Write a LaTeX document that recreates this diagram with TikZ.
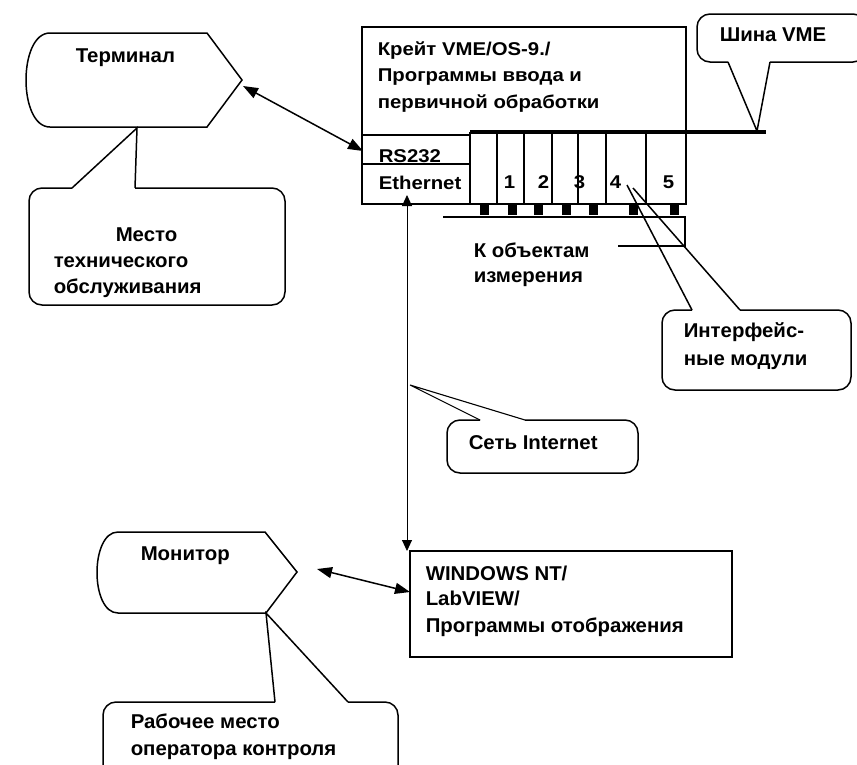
\documentclass[tikz,border=0pt]{standalone}
\usepackage{fontspec}
\setmainfont{Liberation Sans}
\newfontfamily\cratefont[FakeStretch=1.1]{Liberation Sans}
\newfontfamily\mainfont[FakeStretch=1.02]{Liberation Sans}
\usetikzlibrary{arrows.meta}
\begin{document}
\begin{tikzpicture}[x=1pt,y=-1pt,line width=1.5pt,line join=miter,
  txt/.style={font=\mainfont\bfseries\fontsize{20}{24}\selectfont,inner sep=0pt,anchor=base west},
  ctxt/.style={font=\cratefont\bfseries\fontsize{18.5}{22}\selectfont,inner sep=0pt,anchor=base west},
  bigtip/.style={{Triangle[length=15pt,width=11pt]}-{Triangle[length=15pt,width=11pt]}},
  thintip/.style={line width=0.9pt,{Triangle[length=11pt,width=10pt]}-{Triangle[length=11pt,width=10pt]}},
  callout/.style={rounded corners=13pt},
  plug/.style={fill=black,draw=none}]
\useasboundingbox (0,0) rectangle (857,764);

% Terminal shape
\draw (207,33) -- (242,80) -- (207,127) -- (50,127) .. controls (18,127) and (18,33) .. (50,33) -- cycle;
\node[txt] (term) at (75,62) {Терминал};

% Maintenance callout
\draw[callout] (72,188) -- (29,188) -- (29,305) -- (285,305) -- (285,188) -- (135,188);
\draw (135,188) -- (137,128) -- (72,188);
\node[txt] (mesto1) at (115,241) {Место};
\node[txt] (mesto2) at (53,267) {технического};
\node[txt] (mesto3) at (53,293) {обслуживания};

% Crate
\draw (362,27) rectangle (686,204);
\draw (362,135) -- (470,135);
\draw (362,164) -- (470,164);
\draw[line width=3.4pt] (470,132) -- (766,132);
\foreach \x in {470,497,524,552,578,606,646} \draw (\x,132) -- (\x,203);
\node[ctxt] (crate1) at (377,55) {Крейт VME/OS-9./};
\node[ctxt] (crate2) at (377,81) {Программы ввода и};
\node[ctxt] (crate3) at (377,108) {первичной обработки};
\node[ctxt] (rs) at (378,162) {RS232};
\node[ctxt] (eth) at (378,189) {Ethernet};
\node[ctxt] (m1) at (503,188) {1};
\node[ctxt] (m2) at (537,188) {2};
\node[ctxt] (m3) at (573,188) {3};
\node[ctxt] (m4) at (609,188) {4};
\node[ctxt] (m5) at (662,188) {5};
\foreach \x in {484,512,538,566,593,633,674} \fill[plug] (\x-4.5,204) rectangle (\x+4.5,215);

% To measurement objects
\draw (443,217) -- (685,217) -- (685,246) -- (618,246);
\node[txt] (obj1) at (473,257) {К объектам};
\node[txt] (obj2) at (473,282) {измерения};

% VME bus callout
\draw[callout] (728,62) -- (697,62) -- (697,14) -- (866,14) -- (866,62) -- (770,62);
\draw (770,62) -- (757,131) -- (728,62);
\node[txt] (bus) at (719,41) {Шина VME};

% Interface modules callout
\coordinate (mod4) at (627,185);
\coordinate (mod4b) at (633,188);
\draw[callout] (692,310) -- (662,310) -- (662,390) -- (851,390) -- (851,310) -- (740,310);
\draw (692,310) -- (mod4);
\draw (740,310) -- (mod4b);
\node[txt] (if1) at (683,337) {Интерфейс-};
\node[txt] (if2) at (683,365) {ные модули};

% Terminal <-> RS232
\coordinate (termtip) at (243,86);
\coordinate (rsin) at (363,151);
\draw[bigtip] (termtip) -- (rsin);

% Ethernet <-> Windows
\coordinate (ethin) at (407,195);
\coordinate (winin) at (407,551);
\draw[thintip] (ethin) -- (winin);

% Internet callout
\coordinate (netpt) at (410,385);
\draw[callout] (480,420) -- (447,420) -- (447,473) -- (638,473) -- (638,420) -- (525,420);
\draw[line width=1.1pt] (525,420) -- (netpt) -- (480,420);
\node[txt] (net) at (468,449) {Сеть Internet};

% Windows box
\draw (410,551) rectangle (732,657);
\node[txt] (w1) at (425,580) {WINDOWS NT/};
\node[txt] (w2) at (425,605) {LabVIEW/};
\node[txt] (w3) at (425,632) {Программы отображения};

% Monitor shape
\draw (265,532) -- (297,572) -- (266,613) -- (118,613) .. controls (90,613) and (90,532) .. (118,532) -- cycle;
\node[txt] (mon) at (140,560) {Монитор};

% Monitor <-> Windows
\coordinate (montip) at (317,569);
\coordinate (winleft) at (410,592);
\draw[bigtip] (montip) -- (winleft);

% Operator callout
\draw[callout] (275,702) -- (103,702) -- (103,780) -- (398,780) -- (398,702) -- (348,702);
\draw (275,702) -- (266,613) -- (348,702);
\node[txt] (op1) at (130,728) {Рабочее место};
\node[txt] (op2) at (130,755) {оператора контроля};
\end{tikzpicture}
\end{document}
